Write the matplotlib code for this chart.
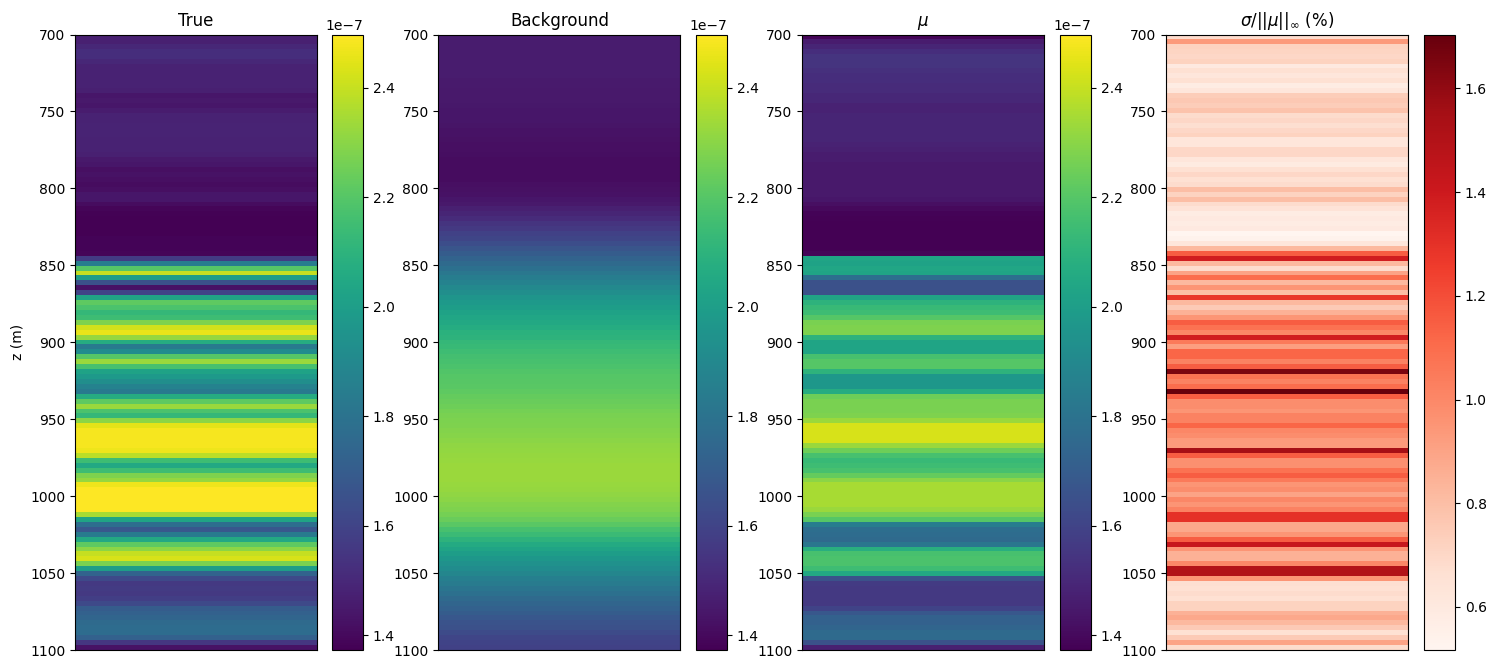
import numpy as np
import matplotlib
matplotlib.use("Agg")
import matplotlib.pyplot as plt

# layered profiles, top to bottom, in units of 1e-7
m_true = [1.47,1.47,1.50,1.52,1.52,1.50,1.48,1.48,1.48,1.48,
          1.48,1.47,1.44,1.45,1.44,1.46,1.48,1.48,1.485,1.485,
          1.485,1.48,1.48,1.48,1.47,1.45,1.44,1.42,1.43,1.42,
          1.41,1.42,1.44,1.44,1.41,1.39,1.38,1.373,1.373,1.373,
          1.373,1.385,1.385,1.385,1.39,1.57,1.85,2.20,2.40,2.00,
          1.65,1.43,1.60,2.03,2.22,2.18,2.12,2.15,2.28,2.42,
          2.46,2.32,2.07,1.83,1.92,2.20,2.33,2.17,2.02,1.98,
          1.93,1.87,1.83,2.07,2.22,2.33,2.18,2.12,2.30,2.45,
          2.48,2.48,2.48,2.48,2.47,2.38,2.15,2.05,2.15,2.28,
          2.32,2.47,2.497,2.497,2.497,2.497,2.497,2.35,2.03,1.78,
          1.68,1.83,2.05,2.22,2.30,2.40,2.43,2.27,2.00,1.73,
          1.62,1.56,1.57,1.56,1.58,1.62,1.70,1.72,1.74,1.76,
          1.77,1.77,1.72,1.55,1.43]
m_back = [1.46,1.46,1.46,1.46,1.46,1.46,1.46,1.46,1.46,1.455,
          1.455,1.45,1.45,1.45,1.445,1.44,1.44,1.44,1.435,1.43,
          1.43,1.425,1.42,1.42,1.415,1.41,1.41,1.41,1.41,1.41,
          1.42,1.425,1.43,1.44,1.45,1.47,1.49,1.51,1.54,1.56,
          1.59,1.61,1.64,1.67,1.70,1.73,1.76,1.79,1.82,1.85,
          1.87,1.90,1.93,1.96,1.98,2.00,2.02,2.04,2.05,2.07,
          2.09,2.10,2.12,2.13,2.15,2.16,2.17,2.18,2.19,2.20,
          2.205,2.21,2.22,2.23,2.24,2.25,2.26,2.27,2.275,2.28,
          2.29,2.295,2.30,2.31,2.315,2.32,2.325,2.33,2.33,2.33,
          2.33,2.325,2.32,2.31,2.30,2.29,2.28,2.26,2.24,2.21,
          2.17,2.14,2.10,2.06,2.03,2.00,1.97,1.94,1.92,1.89,
          1.86,1.84,1.81,1.79,1.76,1.74,1.72,1.70,1.68,1.66,
          1.65,1.63,1.61,1.60,1.59]
m_mean = [1.39,1.46,1.49,1.52,1.54,1.54,1.54,1.53,1.52,1.52,
          1.51,1.51,1.50,1.50,1.48,1.48,1.49,1.49,1.49,1.49,
          1.49,1.49,1.48,1.47,1.46,1.46,1.45,1.45,1.45,1.45,
          1.45,1.45,1.45,1.44,1.42,1.40,1.385,1.38,1.375,1.375,
          1.375,1.375,1.375,1.375,1.39,2.03,2.02,2.04,2.03,1.78,
          1.65,1.65,1.65,2.03,2.10,2.13,2.15,2.20,2.27,2.28,
          2.28,2.10,2.03,2.03,2.03,2.17,2.20,2.20,2.10,1.97,
          1.97,1.97,2.07,2.25,2.27,2.27,2.27,2.28,2.33,2.43,
          2.43,2.43,2.43,2.33,2.25,2.17,2.13,2.15,2.17,2.23,
          2.30,2.35,2.35,2.35,2.35,2.35,2.33,2.27,2.20,1.85,
          1.78,1.77,1.76,1.82,2.08,2.17,2.18,2.18,2.15,2.05,
          1.65,1.57,1.56,1.56,1.56,1.56,1.60,1.68,1.72,1.72,
          1.74,1.76,1.76,1.65,1.47]
m_std = [.68,.93,.72,.71,.70,.72,.60,.66,.62,.66,
         .58,.62,.74,.76,.74,.78,.68,.70,.67,.70,
         .72,.62,.62,.70,.70,.62,.59,.66,.70,.66,
         .68,.80,.72,.80,.68,.64,.58,.60,.58,.60,
         .517,.54,.62,.82,1.15,1.38,.82,.68,.90,1.10,
         .82,.95,.80,1.28,.82,.75,.85,.95,1.15,1.08,
         1.00,1.38,1.05,.92,1.12,1.12,1.02,1.15,1.65,1.08,
         1.02,1.10,1.704,1.15,.98,.98,.95,1.02,1.02,1.12,
         1.00,.98,.93,.93,1.55,1.15,.97,.97,1.08,1.15,
         1.05,.95,.98,.90,1.00,.95,1.02,1.30,1.30,.88,
         .88,.95,1.15,1.42,.95,.85,.85,1.00,1.50,1.50,
         .95,.67,.66,.68,.66,.72,.72,.85,.88,.82,
         .75,.66,.75,.90,.68]

titles = ["True","Background",r"$\mu$",r"$\sigma/||\mu||_\infty$ (%)"]
z_top, z_bot = 700, 1100
yticks = list(range(700,1101,50))

W, H = 1496, 668
ax_left = [75, 438.5, 802, 1166]
cb_left = [332, 696, 1060, 1424]
ax_w, cb_w = 242, 31
top, bot = 34.5, 650

def px_box(x, w):
    return [x/W, 1-bot/H, w/W, (bot-top)/H]

vmin, vmax = min(m_true)*1e-7, max(m_true)*1e-7
fields = [np.array(m_true)*1e-7, np.array(m_back)*1e-7, np.array(m_mean)*1e-7, np.array(m_std)]

fig = plt.figure(figsize=(W/100, H/100), dpi=100)
for i in range(4):
    ax = fig.add_axes(px_box(ax_left[i], ax_w))
    cax = fig.add_axes(px_box(cb_left[i], cb_w))
    data = fields[i][:,np.newaxis]
    if i < 3:
        im = ax.imshow(data, cmap="viridis", vmin=vmin, vmax=vmax, aspect="auto",
                       interpolation="nearest", extent=(0,1,z_bot,z_top))
    else:
        im = ax.imshow(data, cmap="Reds", aspect="auto",
                       interpolation="nearest", extent=(0,1,z_bot,z_top))
    ax.set_xticks([])
    ax.set_yticks(yticks)
    ax.set_title(titles[i], fontsize=12)
    fig.colorbar(im, cax=cax)
    if i == 0:
        ax.set_ylabel("z (m)")

fig.savefig("out.png", dpi=100)
